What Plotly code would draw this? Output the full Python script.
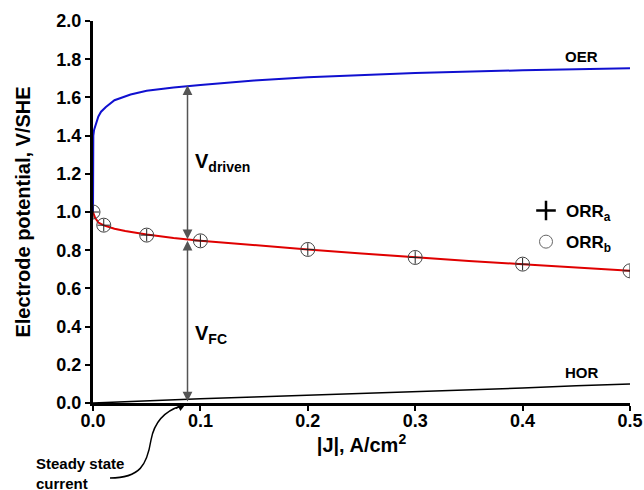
import plotly.graph_objects as go

# ---------------- data ----------------
oer_j = [0, 0, 0.0003, 0.001, 0.0025, 0.005, 0.0075, 0.012, 0.02, 0.035, 0.05, 0.075,
         0.1, 0.15, 0.2, 0.3, 0.4, 0.5]
oer_e = [1.0, 1.30, 1.40, 1.43, 1.46, 1.50, 1.525, 1.55, 1.585, 1.615, 1.635, 1.652,
         1.665, 1.688, 1.705, 1.728, 1.742, 1.752]

orr_line_j = [0, 0.002, 0.005, 0.01, 0.02, 0.03, 0.05, 0.075, 0.1, 0.15, 0.2, 0.25,
              0.3, 0.35, 0.4, 0.45, 0.5]
orr_line_e = [1.0, 0.97, 0.945, 0.93, 0.912, 0.90, 0.882, 0.864, 0.85, 0.826, 0.804,
              0.783, 0.763, 0.744, 0.727, 0.709, 0.692]

hor_j = [0, 0.05, 0.1, 0.15, 0.2, 0.25, 0.3, 0.35, 0.4, 0.45, 0.5]
hor_e = [0, 0.012, 0.022, 0.031, 0.04, 0.048, 0.058, 0.068, 0.078, 0.09, 0.10]

orr_pts_j = [0, 0.01, 0.05, 0.1, 0.2, 0.3, 0.4, 0.5]
orra_e = [1.0, 0.931, 0.879, 0.849, 0.804, 0.762, 0.727, 0.692]
orrb_e = [1.0, 0.931, 0.879, 0.849, 0.804, 0.762, 0.727, 0.692]

x_ticks = [0, 0.1, 0.2, 0.3, 0.4, 0.5]
x_tick_labels = ["0.0", "0.1", "0.2", "0.3", "0.4", "0.5"]
y_ticks = [0, 0.2, 0.4, 0.6, 0.8, 1.0, 1.2, 1.4, 1.6, 1.8, 2.0]
y_tick_labels = ["0.0", "0.2", "0.4", "0.6", "0.8", "1.0", "1.2", "1.4", "1.6", "1.8", "2.0"]

# annotation positions (data units)
arrow_j = 0.088
v_fc_top = 0.85
v_driven_top = 1.663

FONT = "Liberation Sans, Arial, sans-serif"

W, H = 644, 490
ML, MR, MT, MB = 93, 14, 21, 87
PW, PH = W - ML - MR, H - MT - MB


def px2paper(px, py):
    return (px - ML) / PW, (H - MB - py) / PH


fig = go.Figure()

fig.add_trace(go.Scatter(x=oer_j, y=oer_e, mode="lines",
                         line=dict(color="#1010d0", width=2), showlegend=False))
fig.add_trace(go.Scatter(x=orr_line_j, y=orr_line_e, mode="lines",
                         line=dict(color="#e00000", width=2), showlegend=False))
fig.add_trace(go.Scatter(x=hor_j, y=hor_e, mode="lines",
                         line=dict(color="black", width=1.5), showlegend=False))
fig.add_trace(go.Scatter(x=orr_pts_j, y=orrb_e, mode="markers",
                         marker=dict(symbol="circle-open", size=14, color="#444",
                                     line=dict(color="#444", width=1)),
                         showlegend=False))
fig.add_trace(go.Scatter(x=orr_pts_j, y=orra_e, mode="markers",
                         marker=dict(symbol="cross-thin-open", size=9, color="#222",
                                     line=dict(color="#222", width=1)),
                         showlegend=False))
# legend entries
fig.add_trace(go.Scatter(x=[None], y=[None], mode="markers", name="<b>ORR<sub>a</sub></b>",
                         legendgroup="a",
                         marker=dict(symbol="cross-thin-open", size=14, color="black",
                                     line=dict(color="black", width=2.5))))
fig.add_trace(go.Scatter(x=[None], y=[None], mode="markers", name="<b>ORR<sub>b</sub></b>",
                         legendgroup="b",
                         marker=dict(symbol="circle-open", size=13, color="#666",
                                     line=dict(color="#666", width=1))))

annotations = [
    dict(x=arrow_j, y=v_driven_top, ax=arrow_j, ay=v_fc_top, xref="x", yref="y",
         axref="x", ayref="y", text="", showarrow=True, arrowside="end+start",
         arrowhead=2, startarrowhead=2, arrowsize=1.3, startarrowsize=1.3,
         arrowwidth=1.5, arrowcolor="#555"),
    dict(x=arrow_j, y=v_fc_top, ax=arrow_j, ay=0, xref="x", yref="y",
         axref="x", ayref="y", text="", showarrow=True, arrowside="end+start",
         arrowhead=2, startarrowhead=2, arrowsize=1.3, startarrowsize=1.3,
         arrowwidth=1.5, arrowcolor="#555"),
    dict(x=0.093, y=1.26, xref="x", yref="y", xanchor="left", yanchor="middle",
         text="<b>V<sub>driven</sub></b>", showarrow=False,
         font=dict(family=FONT, size=20, color="black")),
    dict(x=0.093, y=0.36, xref="x", yref="y", xanchor="left", yanchor="middle",
         text="<b>V<sub>FC</sub></b>", showarrow=False,
         font=dict(family=FONT, size=20, color="black")),
    dict(x=0.455, y=1.812, xref="x", yref="y", xanchor="center", yanchor="middle",
         text="<b>OER</b>", showarrow=False,
         font=dict(family=FONT, size=15, color="black")),
    dict(x=0.455, y=0.161, xref="x", yref="y", xanchor="center", yanchor="middle",
         text="<b>HOR</b>", showarrow=False,
         font=dict(family=FONT, size=15, color="black")),
    dict(x=px2paper(34, 0)[0], y=px2paper(0, 473)[1], xref="paper", yref="paper",
         xanchor="left", yanchor="middle", align="left",
         text="<b>Steady state<br>current</b>", showarrow=False,
         font=dict(family=FONT, size=15, color="black")),
    dict(x=0.087, y=0, xref="x", yref="y", ax=-12, ay=6, text="", showarrow=True,
         arrowhead=2, arrowsize=1.2, arrowwidth=1.5, arrowcolor="black"),
]

# curved leader line for "Steady state current"
pts = [(110, 478), (140, 478), (147, 465), (151, 440), (155, 418), (168, 410), (181, 406)]
pp = [px2paper(*p) for p in pts]
path = "M {},{} C {},{} {},{} {},{} C {},{} {},{} {},{}".format(
    pp[0][0], pp[0][1], pp[1][0], pp[1][1], pp[2][0], pp[2][1], pp[3][0], pp[3][1],
    pp[4][0], pp[4][1], pp[5][0], pp[5][1], pp[6][0], pp[6][1])
shapes = [dict(type="path", path=path, xref="paper", yref="paper",
               line=dict(color="black", width=1.5))]

fig.update_layout(
    width=W, height=H,
    margin=dict(l=ML, r=MR, t=MT, b=MB, autoexpand=False),
    plot_bgcolor="white", paper_bgcolor="white",
    font=dict(family=FONT, color="black"),
    annotations=annotations, shapes=shapes,
    legend=dict(x=px2paper(526, 0)[0], y=px2paper(0, 193)[1], xanchor="left",
                yanchor="top", bgcolor="rgba(0,0,0,0)",
                font=dict(family=FONT, size=17, color="black"),
                itemsizing="trace", tracegroupgap=6),
    xaxis=dict(range=[0, 0.5], tickvals=x_ticks, ticktext=["<b>%s</b>" % t for t in x_tick_labels],
               showgrid=False, zeroline=False, showline=True, linecolor="black",
               linewidth=3, ticks="outside", ticklen=5, tickwidth=2, tickcolor="black",
               automargin=False, ticklabelstandoff=-6,
               tickfont=dict(family=FONT, size=18, color="black"),
               title=dict(text="<b>|J|, A/cm<sup>2</sup></b>",
                          font=dict(family=FONT, size=20, color="black"), standoff=2)),
    yaxis=dict(range=[0, 2.0], tickvals=y_ticks, ticktext=["<b>%s</b>" % t for t in y_tick_labels],
               showgrid=False, zeroline=False, showline=True, linecolor="black",
               linewidth=3, ticks="outside", ticklen=5, tickwidth=2, tickcolor="black",
               automargin=False,
               tickfont=dict(family=FONT, size=18, color="black"),
               title=dict(text="<b>Electrode potential, V/SHE</b>",
                          font=dict(family=FONT, size=20, color="black"), standoff=21)),
)

fig.write_html("out.html", config={"displayModeBar": False},
               post_script="document.body.style.margin='0';document.body.style.overflow='hidden';")
